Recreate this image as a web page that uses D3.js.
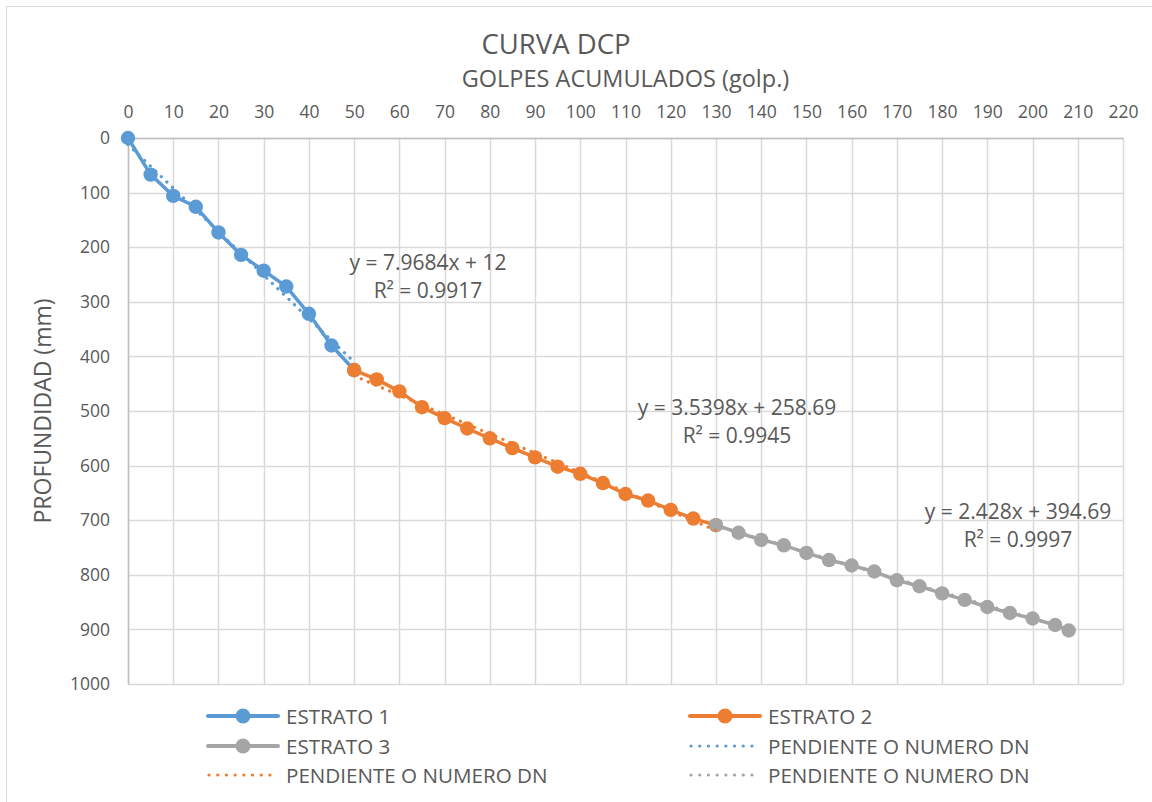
<!DOCTYPE html>
<html><head><meta charset="utf-8"><script src="https://cdn.jsdelivr.net/npm/d3@7"></script>
<style>
body{margin:0;background:#fff}
text{font-family:'Open Sans','Noto Sans',sans-serif;fill:#595959}
</style></head>
<body>
<svg id="chart" width="1152" height="802"></svg>
<script>
// ---- data ----
const title = "CURVA DCP";
const xAxisTitle = "GOLPES ACUMULADOS (golp.)";
const yAxisTitle = "PROFUNDIDAD (mm)";
const seriesNames = ["ESTRATO 1", "ESTRATO 2", "ESTRATO 3"];
const trendName = "PENDIENTE O NUMERO DN";
const estrato1X = [0,5,10,15,20,25,30,35,40,45,50];
const estrato1Y = [0,67,106,126,173,214,243,272,322,380,425];
const estrato2X = [50,55,60,65,70,75,80,85,90,95,100,105,110,115,120,125,130];
const estrato2Y = [425,442,464,493,513,532,550,568,585,602,615,632,652,664,681,697,709];
const estrato3X = [130,135,140,145,150,155,160,165,170,175,180,185,190,195,200,205,208];
const estrato3Y = [709,723,736,746,760,773,783,794,810,821,834,846,859,870,880,892,902];
const trendSlopes = [7.9684, 3.5398, 2.428];
const trendIntercepts = [12, 258.69, 394.69];
const trendEquations = ["y = 7.9684x + 12", "y = 3.5398x + 258.69", "y = 2.428x + 394.69"];
const trendR2 = ["R² = 0.9917", "R² = 0.9945", "R² = 0.9997"];
const xTicks = [0,10,20,30,40,50,60,70,80,90,100,110,120,130,140,150,160,170,180,190,200,210,220];
const yTicks = [0,100,200,300,400,500,600,700,800,900,1000];
const colors = ["#5B9BD5", "#ED7D31", "#A5A5A5"];

// ---- layout ----
const svg = d3.select("#chart");
const L = 128, R = 1123, T = 138, B = 684;
const x = d3.scaleLinear().domain([0, 220]).range([L, R]);
const y = d3.scaleLinear().domain([0, 1000]).range([T, B]);

// chart border
svg.append("rect").attr("x", 6.5).attr("y", 6.5).attr("width", 1200).attr("height", 1000)
  .attr("fill", "none").attr("stroke", "#D9D9D9").attr("stroke-width", 1);

// gridlines
const grid = svg.append("g");
grid.selectAll("line.v").data(xTicks).join("line")
  .attr("x1", d => Math.round(x(d)) + 0.5).attr("x2", d => Math.round(x(d)) + 0.5)
  .attr("y1", T).attr("y2", B).attr("stroke", "#D9D9D9").attr("stroke-width", 1.5);
grid.selectAll("line.h").data(yTicks).join("line")
  .attr("y1", d => Math.round(y(d)) + 0.5).attr("y2", d => Math.round(y(d)) + 0.5)
  .attr("x1", L).attr("x2", R).attr("stroke", "#D9D9D9").attr("stroke-width", 1.5);

// axes
const xAxis = d3.axisTop(x).tickValues(xTicks).tickFormat(d3.format("d")).tickSize(0).tickPadding(20);
const gx = svg.append("g").attr("transform", `translate(0,${T})`).call(xAxis);
gx.select(".domain").attr("stroke", "#BFBFBF").attr("stroke-width", 1.5);
gx.selectAll("text").style("font-size", "17.5px").style("font-family", "'Open Sans'").attr("fill", "#595959");

const yAxis = d3.axisLeft(y).tickValues(yTicks).tickFormat(d3.format("d")).tickSize(0).tickPadding(18);
const gy = svg.append("g").attr("transform", `translate(${L},0)`).call(yAxis);
gy.select(".domain").attr("stroke", "#BFBFBF").attr("stroke-width", 1.5);
gy.selectAll("text").style("font-size", "17.5px").style("font-family", "'Open Sans'").attr("fill", "#595959");

// titles
svg.append("text").attr("x", 556).attr("y", 54).attr("text-anchor", "middle")
  .style("font-size", "27.5px").text(title);
svg.append("text").attr("x", (L + R) / 2).attr("y", 87).attr("text-anchor", "middle")
  .style("font-size", "23.5px").text(xAxisTitle);
svg.append("text").attr("transform", `translate(51,${(T + B) / 2}) rotate(-90)`).attr("text-anchor", "middle")
  .style("font-size", "23px").text(yAxisTitle);

// series
const series = [
  estrato1X.map((v, i) => [v, estrato1Y[i]]),
  estrato2X.map((v, i) => [v, estrato2Y[i]]),
  estrato3X.map((v, i) => [v, estrato3Y[i]])
];
const line = d3.line().x(d => x(d[0])).y(d => y(d[1]));
const plot = svg.append("g");
series.forEach((s, k) => {
  plot.append("path").datum(s).attr("d", line).attr("fill", "none")
    .attr("stroke", colors[k]).attr("stroke-width", 3.5).attr("stroke-linejoin", "round");
  plot.selectAll(null).data(s).join("circle")
    .attr("cx", d => x(d[0])).attr("cy", d => y(d[1])).attr("r", 7.2).attr("fill", colors[k]);
});
// trendlines (on top)
series.forEach((s, k) => {
  const xs = d3.extent(s, d => d[0]);
  const pts = xs.map(v => [v, trendSlopes[k] * v + trendIntercepts[k]]);
  plot.append("path").datum(pts).attr("d", line).attr("fill", "none")
    .attr("stroke", colors[k]).attr("stroke-width", 3.2).attr("stroke-linecap", "round")
    .attr("stroke-dasharray", "0.1 7.6");
});

// trend labels
const labelPos = [[428, 270], [737, 415], [1018, 519]];
labelPos.forEach((p, k) => {
  svg.append("text").attr("x", p[0]).attr("y", p[1]).attr("text-anchor", "middle")
    .style("font-size", "21px").text(trendEquations[k]);
  svg.append("text").attr("x", p[0]).attr("y", p[1] + 28).attr("text-anchor", "middle")
    .style("font-size", "21px").text(trendR2[k]);
});

// legend
const legendItems = [
  {name: seriesNames[0], color: colors[0], marker: true},
  {name: seriesNames[1], color: colors[1], marker: true},
  {name: seriesNames[2], color: colors[2], marker: true},
  {name: trendName, color: colors[0], marker: false},
  {name: trendName, color: colors[1], marker: false},
  {name: trendName, color: colors[2], marker: false}
];
const colX = [208, 690], rowY = [716, 746, 775];
const lg = svg.append("g");
legendItems.forEach((it, i) => {
  const cx = colX[i % 2], cy = rowY[Math.floor(i / 2)];
  const g = lg.append("g").attr("transform", `translate(${cx},${cy})`);
  if (it.marker) {
    g.append("line").attr("x1", 0).attr("x2", 70).attr("stroke", it.color).attr("stroke-width", 4).attr("stroke-linecap", "round");
    g.append("circle").attr("cx", 35).attr("r", 7.5).attr("fill", it.color);
  } else {
    g.append("line").attr("x1", 1).attr("x2", 70).attr("stroke", it.color).attr("stroke-width", 3.2)
      .attr("stroke-linecap", "round").attr("stroke-dasharray", "0.1 8.6");
  }
  g.append("text").attr("x", 78).attr("y", 7.5).style("font-size", "20.6px").text(it.name);
});
</script></body></html>
